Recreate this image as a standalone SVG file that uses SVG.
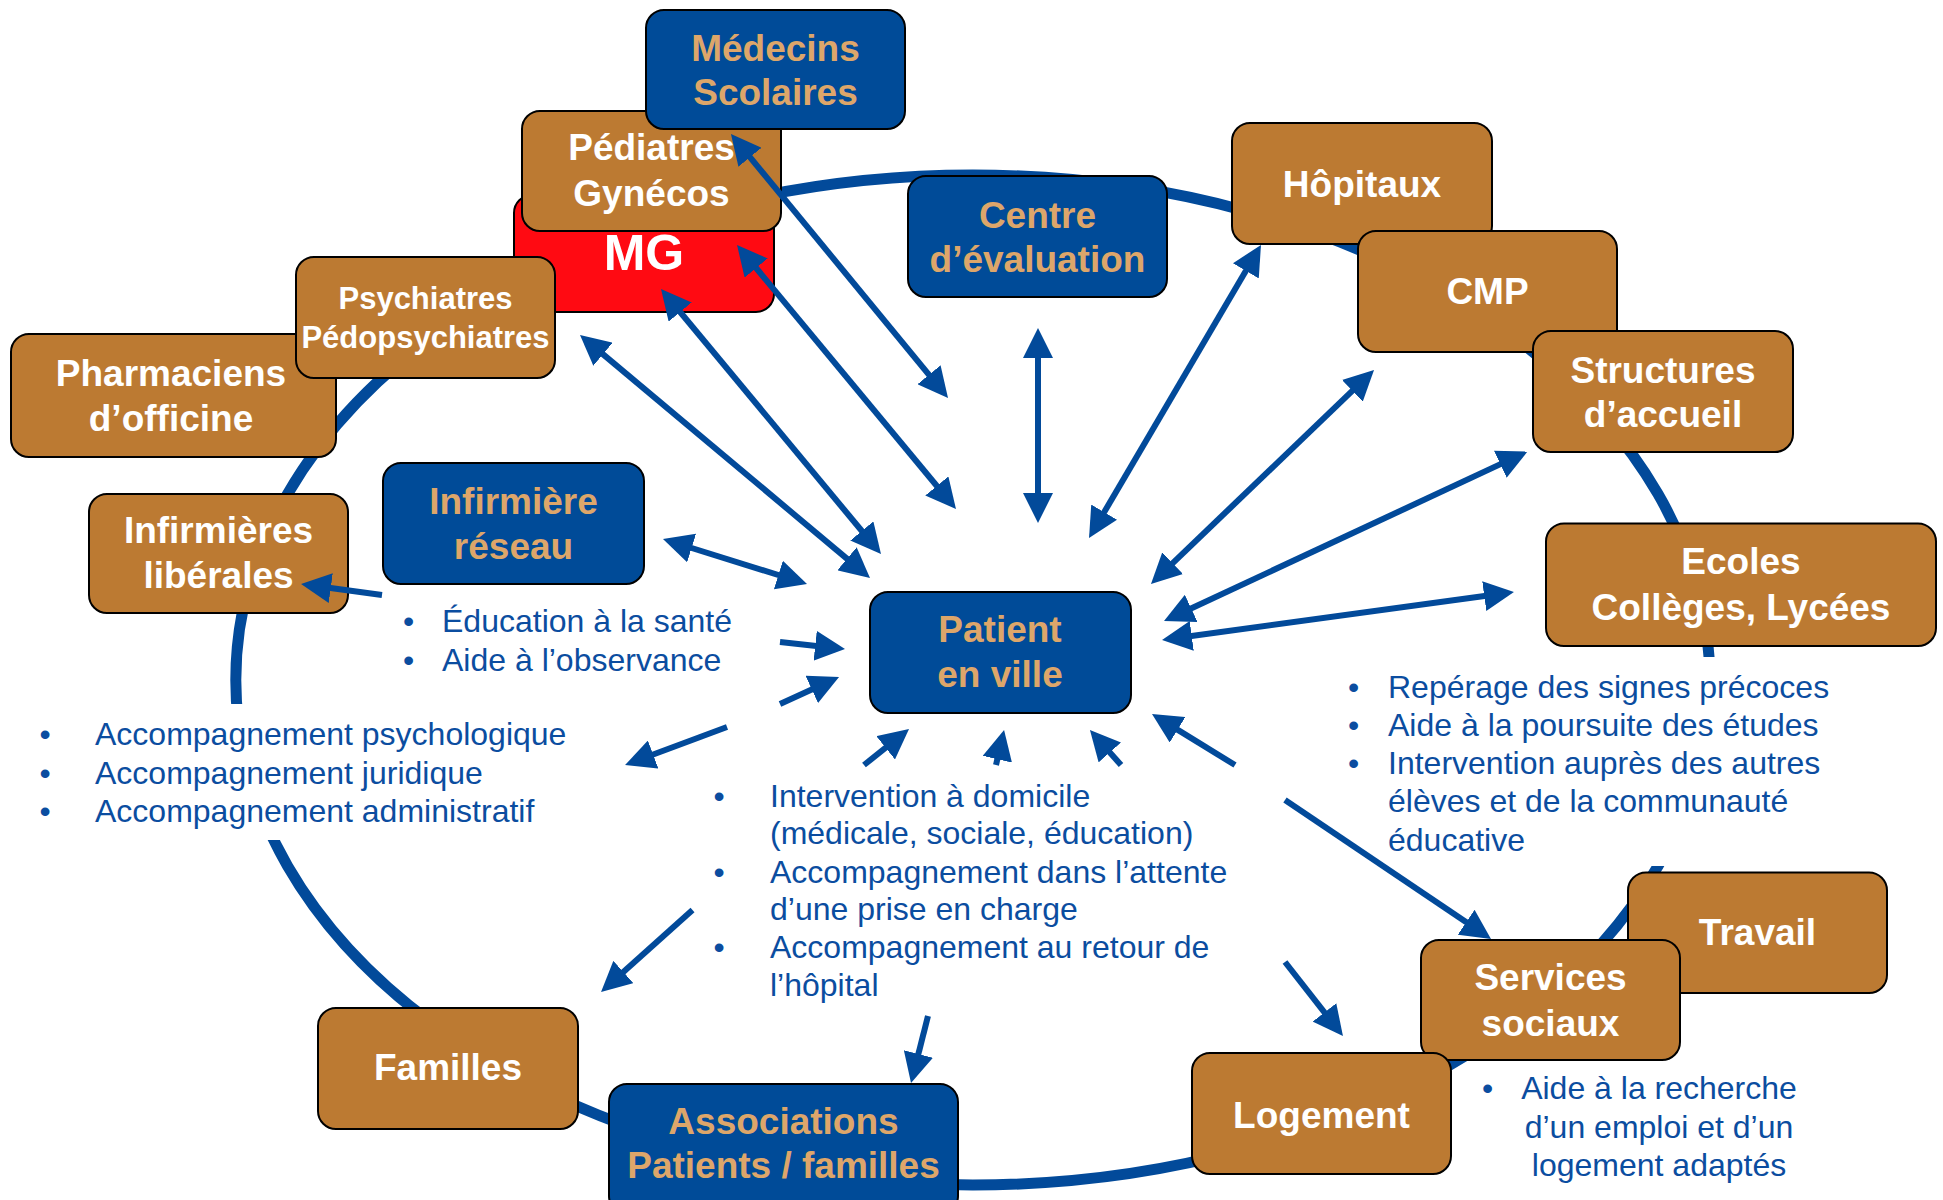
<svg xmlns="http://www.w3.org/2000/svg" width="1943" height="1200" viewBox="0 0 1943 1200">
<style>
.box{stroke:#000;stroke-width:2}
.brown{fill:#BC7A32}
.blue{fill:#004B98}
.red{fill:#FF0A12}
.lbl{font-family:"Liberation Sans",Arial,sans-serif;font-weight:bold;font-size:37px;text-anchor:middle}
.wt{fill:#FFFFFF}
.tan{fill:#DDA66A}
.bul{font-family:"Liberation Sans",Arial,sans-serif;font-size:32px;fill:#0B4DA0}
.conn line{stroke:#024A9A;stroke-width:6;fill:none;marker-end:url(#ah)}
.conn line.dbl{marker-start:url(#ah)}
</style>
<defs>
<marker id="ah" markerUnits="userSpaceOnUse" markerWidth="30" markerHeight="30" viewBox="0 0 30 30" refX="15" refY="15" orient="auto-start-reverse">
<path d="M0,0 L30,15 L0,30 z" fill="#024A9A"/>
</marker>
</defs>
<rect width="1943" height="1200" fill="#FFFFFF"/>
<g id="ring">
<ellipse cx="972.8" cy="680" rx="737" ry="505" fill="none" stroke="#024A9A" stroke-width="11"/>
<rect x="150" y="704" width="220" height="136" fill="#FFFFFF"/>
<rect x="1590" y="657" width="180" height="209" fill="#FFFFFF"/>
</g>
<g id="nodes">
<g id="mg"><rect class="box red" x="514" y="195" width="260" height="117" rx="18"/><text class="lbl wt" x="644" y="270" style="font-size:50px">MG</text></g>
<g id="pediatres"><rect class="box brown" x="522" y="111" width="259" height="120" rx="18"/><text class="lbl wt" x="651.5" y="160">Pédiatres</text><text class="lbl wt" x="651.5" y="206">Gynécos</text></g>
<g id="medecins-scolaires"><rect class="box blue" x="646" y="10" width="259" height="119" rx="18"/><text class="lbl tan" x="775.5" y="60.5">Médecins</text><text class="lbl tan" x="775.5" y="105">Scolaires</text></g>
<g id="pharmaciens"><rect class="box brown" x="11" y="334" width="325" height="123" rx="18"/><text class="lbl wt" x="171" y="386">Pharmaciens</text><text class="lbl wt" x="171" y="430.5">d’officine</text></g>
<g id="psychiatres"><rect class="box brown" x="296" y="257" width="259" height="121" rx="18"/><text class="lbl wt" x="425.5" y="309" style="font-size:31px">Psychiatres</text><text class="lbl wt" x="425.5" y="347.5" style="font-size:31px">Pédopsychiatres</text></g>
<g id="infirmieres-liberales"><rect class="box brown" x="89" y="494" width="259" height="119" rx="18"/><text class="lbl wt" x="218.5" y="543">Infirmières</text><text class="lbl wt" x="218.5" y="588">libérales</text></g>
<g id="infirmiere-reseau"><rect class="box blue" x="383" y="463" width="261" height="121" rx="18"/><text class="lbl tan" x="513.5" y="513.5">Infirmière</text><text class="lbl tan" x="513.5" y="558.5">réseau</text></g>
<g id="centre-evaluation"><rect class="box blue" x="908" y="176" width="259" height="121" rx="18"/><text class="lbl tan" x="1037.5" y="227.7">Centre</text><text class="lbl tan" x="1037.5" y="271.7">d’évaluation</text></g>
<g id="hopitaux"><rect class="box brown" x="1232" y="123" width="260" height="121" rx="18"/><text class="lbl wt" x="1362" y="197">Hôpitaux</text></g>
<g id="cmp"><rect class="box brown" x="1358" y="231" width="259" height="121" rx="18"/><text class="lbl wt" x="1487.5" y="304">CMP</text></g>
<g id="structures"><rect class="box brown" x="1533" y="331" width="260" height="121" rx="18"/><text class="lbl wt" x="1663" y="382.7">Structures</text><text class="lbl wt" x="1663" y="426.7">d’accueil</text></g>
<g id="ecoles"><rect class="box brown" x="1546" y="523.5" width="390" height="122.5" rx="18"/><text class="lbl wt" x="1741" y="574">Ecoles</text><text class="lbl wt" x="1741" y="620">Collèges, Lycées</text></g>
<g id="patient"><rect class="box blue" x="870" y="592" width="261" height="121" rx="18"/><text class="lbl tan" x="1000" y="642">Patient</text><text class="lbl tan" x="1000" y="687">en ville</text></g>
<g id="travail"><rect class="box brown" x="1628" y="872.5" width="259" height="120.5" rx="18"/><text class="lbl wt" x="1757.5" y="944.5">Travail</text></g>
<g id="services-sociaux"><rect class="box brown" x="1421" y="940" width="259" height="120" rx="18"/><text class="lbl wt" x="1550.5" y="990">Services</text><text class="lbl wt" x="1550.5" y="1036">sociaux</text></g>
<g id="logement"><rect class="box brown" x="1192" y="1053" width="259" height="121" rx="18"/><text class="lbl wt" x="1321.5" y="1128">Logement</text></g>
<g id="familles"><rect class="box brown" x="318" y="1008" width="260" height="121" rx="18"/><text class="lbl wt" x="448" y="1080">Familles</text></g>
<g id="associations"><rect class="box blue" x="609" y="1084" width="349" height="130" rx="18"/><text class="lbl tan" x="783.5" y="1134">Associations</text><text class="lbl tan" x="783.5" y="1178">Patients / familles</text></g>
</g>
<g id="connectors" class="conn">
<line class="dbl" x1="740.5" y1="145.6" x2="938.5" y2="386.4"/>
<line class="dbl" x1="746.6" y1="256.5" x2="946.4" y2="497.5"/>
<line class="dbl" x1="670.6" y1="300.5" x2="871.4" y2="542.5"/>
<line class="dbl" x1="591.5" y1="344.6" x2="858.5" y2="568.4"/>
<line class="dbl" x1="677.3" y1="543.5" x2="792.7" y2="579.5"/>
<line x1="382" y1="595" x2="315.9" y2="586"/>
<line x1="780" y1="642" x2="830.1" y2="647.4"/>
<line x1="780" y1="704" x2="825.4" y2="683.2"/>
<line x1="727" y1="727" x2="639.1" y2="759.8"/>
<line x1="864" y1="765" x2="897.3" y2="738.4"/>
<line x1="692.5" y1="910" x2="612.2" y2="982"/>
<line x1="928" y1="1016" x2="914.7" y2="1068.5"/>
<line x1="996" y1="765" x2="1000.7" y2="744.6"/>
<line x1="1121" y1="765" x2="1099.9" y2="741.2"/>
<line x1="1235" y1="765" x2="1164.8" y2="721.9"/>
<line x1="1285" y1="800" x2="1478.6" y2="930.6"/>
<line x1="1285" y1="962" x2="1333.7" y2="1024.2"/>
<line class="dbl" x1="1176.9" y1="638" x2="1499.1" y2="594"/>
<line class="dbl" x1="1177.6" y1="614.7" x2="1513.9" y2="457.9"/>
<line class="dbl" x1="1161.8" y1="573.6" x2="1363.2" y2="380.4"/>
<line class="dbl" x1="1096.6" y1="525.1" x2="1253.4" y2="257.9"/>
<line class="dbl" x1="1038" y1="343" x2="1038" y2="508"/>
</g>
<g id="notes">
<g class="bul">
<text x="403" y="632">•</text><text x="442" y="632">Éducation à la santé</text>
<text x="403" y="671">•</text><text x="442" y="671">Aide à l’observance</text>
</g>
<g class="bul">
<text x="39.5" y="745">•</text><text x="95" y="745">Accompagnement psychologique</text>
<text x="39.5" y="784">•</text><text x="95" y="784">Accompagnement juridique</text>
<text x="39.5" y="822">•</text><text x="95" y="822">Accompagnement administratif</text>
</g>
<g class="bul">
<text x="713.5" y="807">•</text><text x="770" y="807">Intervention à domicile</text>
<text x="770" y="844">(médicale, sociale, éducation)</text>
<text x="713.5" y="883">•</text><text x="770" y="883">Accompagnement dans l’attente</text>
<text x="770" y="920">d’une prise en charge</text>
<text x="713.5" y="958">•</text><text x="770" y="958">Accompagnement au retour de</text>
<text x="770" y="996">l’hôpital</text>
</g>
<g class="bul">
<text x="1348" y="698">•</text><text x="1388" y="698">Repérage des signes précoces</text>
<text x="1348" y="736">•</text><text x="1388" y="736">Aide à la poursuite des études</text>
<text x="1348" y="774">•</text><text x="1388" y="774">Intervention auprès des autres</text>
<text x="1388" y="812">élèves et de la communauté</text>
<text x="1388" y="851">éducative</text>
</g>
<g class="bul">
<text x="1482" y="1099">•</text>
<text x="1659" y="1099" text-anchor="middle">Aide à la recherche</text>
<text x="1659" y="1138" text-anchor="middle">d’un emploi et d’un</text>
<text x="1659" y="1176" text-anchor="middle">logement adaptés</text>
</g>
</g>
</svg>
